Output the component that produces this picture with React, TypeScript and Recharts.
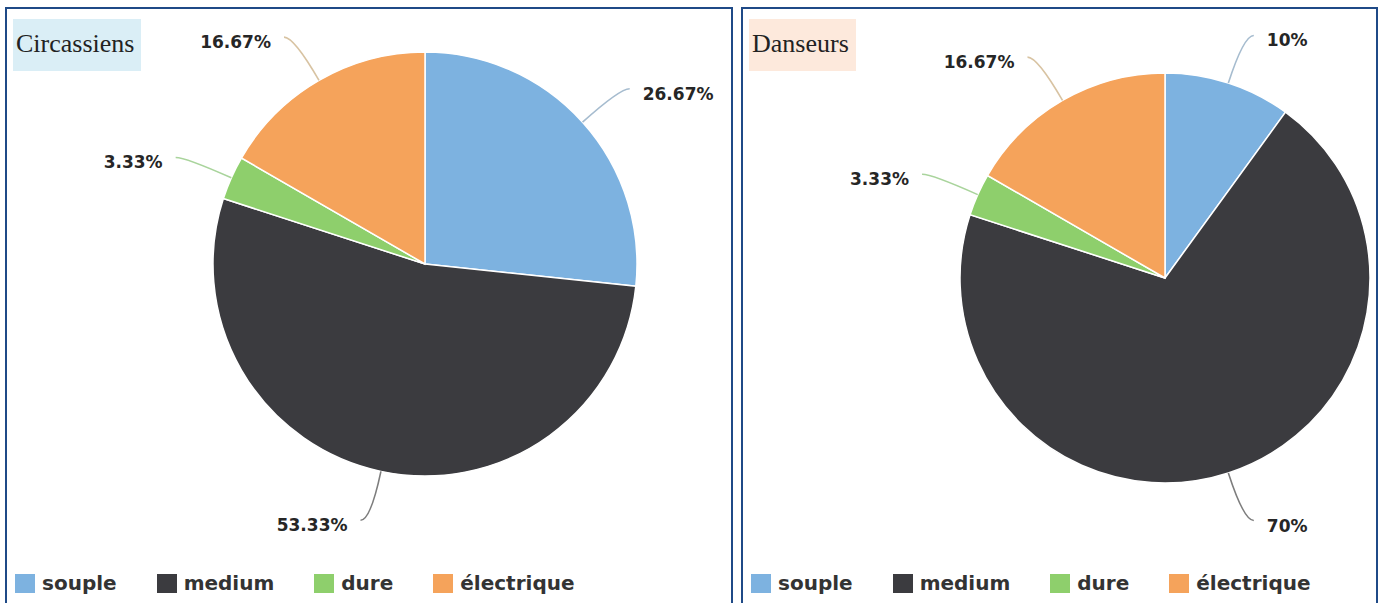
import React from "react";
import { PieChart, Pie, Cell, Legend } from "recharts";

const CATEGORIES = ["souple", "medium", "dure", "électrique"];
const CIRCASSIENS = [8, 16, 1, 5];
const DANSEURS = [3, 21, 1, 5];

const COLORS = ["#7db2e0", "#3b3b3f", "#8ecf6c", "#f5a35b"];
const LINE_COLORS = ["#a6bccf", "#7d7d7d", "#a9d49c", "#d8c3a2"];
const BORDER = "#1f4a87";
const RADIAN = Math.PI / 180;

function toData(values: number[]) {
  return CATEGORIES.map((name, i) => ({ name, value: values[i] }));
}

function fmt(p: number) {
  return String(Number((p * 100).toFixed(2)));
}

function renderLabel(props: any) {
  const { cx, cy, midAngle, outerRadius, percent, index } = props;
  const cos = Math.cos(-midAngle * RADIAN);
  const sin = Math.sin(-midAngle * RADIAN);
  const ax = cx + outerRadius * cos;
  const ay = cy + outerRadius * sin;
  const bx = cx + (outerRadius + 50) * cos;
  const by = cy + (outerRadius + 50) * sin;
  const side = cos >= 0 ? 1 : -1;
  const ex = bx + side * 10;
  const ey = by;
  return (
    <g key={`lbl-${index}`}>
      <path
        d={`M${ax},${ay} Q${bx},${by} ${ex},${ey}`}
        stroke={LINE_COLORS[index]}
        strokeWidth={1.6}
        fill="none"
      />
      <text
        x={ex + side * 13}
        y={ey + 5}
        textAnchor={side > 0 ? "start" : "end"}
        dominantBaseline="central"
        fontFamily="DejaVu Sans"
        fontWeight="bold"
        fontSize={17}
        fill="#262626"
      >
        {fmt(percent)}%
      </text>
    </g>
  );
}

function LegendContent({ payload }: any) {
  const items = [...(payload || [])].sort(
    (a: any, b: any) => CATEGORIES.indexOf(a.value) - CATEGORIES.indexOf(b.value)
  );
  return (
    <div style={{ display: "flex", alignItems: "center" }}>
      {items.map((entry: any) => (
        <div key={entry.value} style={{ display: "flex", alignItems: "center", marginRight: 40 }}>
          <div style={{ width: 20, height: 19, background: entry.color, marginRight: 7 }} />
          <span
            style={{
              fontFamily: "DejaVu Sans",
              fontWeight: "bold",
              fontSize: 20,
              color: "#333",
              lineHeight: "22px",
            }}
          >
            {entry.value}
          </span>
        </div>
      ))}
    </div>
  );
}

function Panel({
  left,
  width,
  title,
  titleBg,
  values,
  cx,
  cy,
  radius,
}: {
  left: number;
  width: number;
  title: string;
  titleBg: string;
  values: number[];
  cx: number;
  cy: number;
  radius: number;
}) {
  return (
    <div style={{ position: "absolute", left, top: 0, width, height: 603 }}>
      <div
        style={{
          position: "absolute",
          left: 0,
          top: 7,
          width,
          height: 640,
          boxSizing: "border-box",
          border: `2px solid ${BORDER}`,
        }}
      />
      <div
        style={{
          position: "absolute",
          left: 8,
          top: 19,
          height: 52,
          padding: "0 7px 0 3px",
          background: titleBg,
          fontFamily: "Liberation Serif",
          fontSize: 26,
          lineHeight: "50px",
          color: "#222",
        }}
      >
        {title}
      </div>
      <PieChart width={width} height={603} style={{ position: "absolute", left: 0, top: 0 }}>
        <Pie
          data={toData(values)}
          dataKey="value"
          nameKey="name"
          cx={cx}
          cy={cy}
          outerRadius={radius}
          startAngle={90}
          endAngle={-270}
          stroke="#ffffff"
          strokeWidth={1.5}
          label={renderLabel}
          labelLine={false}
          isAnimationActive={false}
        >
          {CATEGORIES.map((c, i) => (
            <Cell key={c} fill={COLORS[i]} />
          ))}
        </Pie>
        <Legend
          content={<LegendContent />}
          wrapperStyle={{ left: 10, top: 572, width: width - 20, height: 22 }}
        />
      </PieChart>
    </div>
  );
}

export default function App() {
  return (
    <div style={{ position: "absolute", left: 0, top: 0, width: 1382, height: 603, background: "#fff", overflow: "hidden" }}>
      <Panel
        left={5}
        width={728}
        title="Circassiens"
        titleBg="#daeef6"
        values={CIRCASSIENS}
        cx={415}
        cy={259}
        radius={212}
      />
      <Panel
        left={741}
        width={637}
        title="Danseurs"
        titleBg="#fde9dc"
        values={DANSEURS}
        cx={419}
        cy={273}
        radius={205}
      />
    </div>
  );
}
